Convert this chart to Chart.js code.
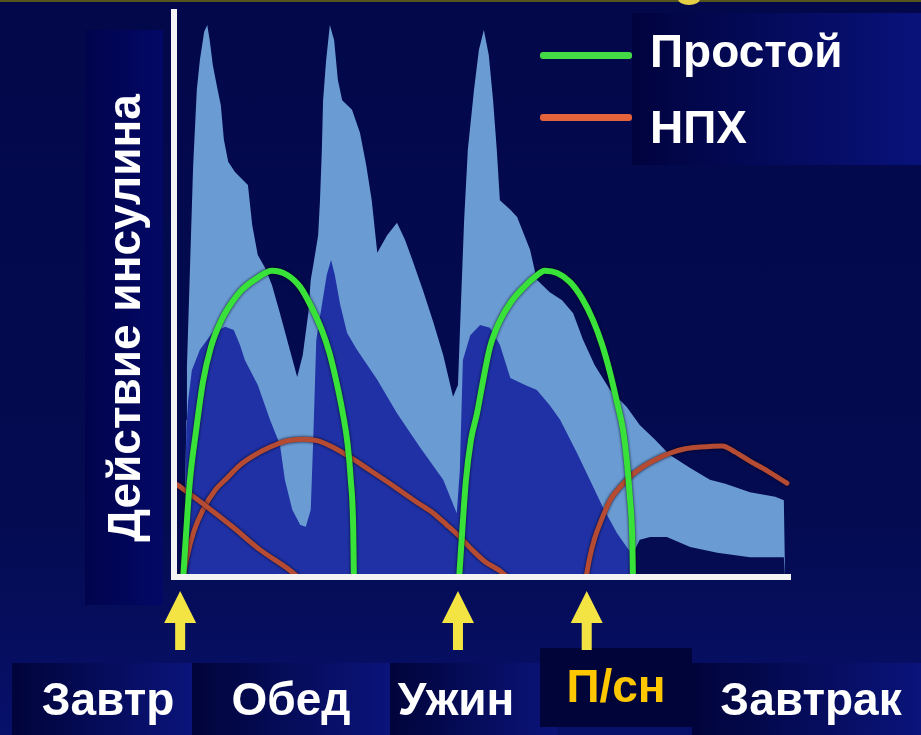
<!DOCTYPE html>
<html lang="ru">
<head>
<meta charset="utf-8">
<title>Действие инсулина</title>
<script src="https://cdn.jsdelivr.net/npm/chart.js@4/dist/chart.umd.min.js"></script>
<style>
  html, body { margin: 0; padding: 0; }
  body {
    width: 921px; height: 735px; overflow: hidden; position: relative;
    background: linear-gradient(180deg, #02084a 0%, #040b50 70%, #07106a 100%);
    font-family: "Liberation Sans", Arial, sans-serif; font-weight: bold; color: #fff;
  }
  .panel { position: absolute; z-index: 0; }
  #grafico { position: absolute; left: 0; top: 0; z-index: 1; }
  .txt { position: absolute; z-index: 2; font-size: 46px; line-height: 46px; white-space: nowrap; }
  #yTitle { left: 124px; top: 318px; width: 520px; height: 46px; text-align: center;
            transform: translate(-50%, -50%) rotate(-90deg); }
  .bar { position: absolute; z-index: 2; height: 7px; border-radius: 3px; }
</style>
</head>
<body>
<div class="panel" style="left:0;top:0;width:921px;height:2px;background:#55531e"></div>
<div class="panel" style="left:678px;top:-7px;width:22px;height:12px;border-radius:50%;background:#e6cf45"></div>
<div class="panel" style="left:85px;top:30px;width:78px;height:575px;background:linear-gradient(90deg,#01044c,#030866)"></div>
<div class="panel" style="left:632px;top:13px;width:289px;height:152px;background:linear-gradient(90deg,#01033e,#08127a)"></div>
<div class="panel" style="left:12px;top:663px;width:180px;height:72px;background:linear-gradient(90deg,#01043a,#0a147a)"></div>
<div class="panel" style="left:192px;top:663px;width:198px;height:72px;background:linear-gradient(90deg,#01043a,#0a147a)"></div>
<div class="panel" style="left:390px;top:663px;width:167px;height:72px;background:linear-gradient(90deg,#01043a,#0a147a)"></div>
<div class="panel" style="left:692px;top:663px;width:229px;height:72px;background:linear-gradient(90deg,#01043a,#0a147a)"></div>
<div class="panel" style="left:540px;top:648px;width:152px;height:79px;background:#010438;z-index:0"></div>

<canvas id="grafico" width="921" height="735"></canvas>
<div id="yTitle" class="txt">Действие инсулина</div>
<div id="leyenda"></div>
<div id="comidas"></div>

<script>
// ось X: 0..100 — сутки от завтрака до завтрака, ось Y: 0..100 — действие инсулина

// светлая полоса (верхняя граница)
const upperX = [1.6,2.0,2.1,2.6,3.1,3.7,4.2,4.9,5.4,5.8,6.3,7.0,7.6,8.1,8.8,9.9,12.0,12.7,13.6,14.8,15.9,17.2,18.8,20.0,20.9,21.8,22.2,22.7,23.4,23.7,24.0,24.2,24.7,25.3,26.0,26.6,27.3,28.9,30.2,31.2,32.1,33.0,34.6,36.2,37.5,38.8,40.4,42.1,43.7,45.3,46.1,46.6,47.1,47.7,48.7,49.5,50.3,51.1,51.8,52.4,52.9,54.6,55.7,57.8,58.9,61.0,63.0,64.8,66.4,68.3,70.8,73.5,75.6,78.1,80.5,83.8,87.0,89.5,93.5,97.6,99.0,99.2];
const upperY = [0,27.8,37.2,54.9,72.6,86.2,91.5,96.5,97.7,95.0,90.6,86.7,83.5,77.4,73.5,71.7,69.4,62.3,57.0,54.7,51.7,46.7,40.2,35.4,39.3,46.7,52.6,55.8,60.5,66.7,75.6,84.4,91.5,97.7,95.0,88.0,84.4,82.7,78.6,72.9,66.7,57.4,60.5,62.7,59.7,55.8,50.8,45.1,39.3,31.9,34.0,49.0,63.2,75.6,86.2,93.3,96.8,92.4,84.4,75.6,66.7,65.0,63.7,57.9,52.6,50.4,49.0,46.7,42.0,37.5,33.1,30.1,26.9,24.3,21.6,19.3,17.2,16.5,15.0,14.2,13.6,0];

// нижняя граница полосы (днём)
const lowerX = [1.6,2.0,2.3,2.9,4.2,6.2,8.3,9.7,10.7,11.5,13.6,15.6,17.2,18.0,19.2,20.5,21.4,22.2,22.6,23.1,24.0,24.8,25.5,26.1,27.0,28.1,29.7,33.0,36.2,39.9,43.7,45.9,46.4,46.9,48.1,49.7,51.3,52.9,54.6,57.0,58.9,61.0,62.7,65.4,67.5,69.6,71.9,74.4];
const lowerY = [0,26.0,31.3,36.6,40.2,43.2,44.3,43.7,41.1,38.4,34.0,27.8,23.4,17.2,11.9,9.2,8.9,11.9,24.3,42.0,48.1,53.5,56.1,53.5,48.1,43.2,40.2,34.9,29.0,23.0,17.2,11.3,18.9,38.4,42.8,44.6,44.1,41.1,35.2,34.0,33.1,30.4,27.8,22.0,17.2,12.4,7.8,3.9];

// нижняя граница полосы (ночью)
const nightX = [74.4,75.6,77.3,80.0,83.8,88.2,93.5,99.0,99.2];
const nightY = [3.9,6.6,7.1,7.1,5.3,4.3,3.5,3.5,0];

// простой инсулин
const arc1X = [1.5,2.0,2.6,3.6,4.7,6.0,7.5,9.1,11.0,13.5,15.9,18.3,20.5,22.4,24.0,25.2,26.3,27.4,28.2,28.7,29.1,29.2];
const arc1Y = [0,8.3,17.2,26.0,34.5,40.7,45.0,48.1,50.8,52.9,54.2,53.5,51.3,47.6,43.7,39.8,34.9,29.0,23.4,17.2,8.3,0];
const arc2X = [46.3,46.8,47.4,48.2,49.2,50.2,51.3,52.8,54.6,56.7,58.6,60.2,62.2,64.3,66.2,68.0,69.5,70.8,71.9,72.9,73.5,74.0,74.4,74.5];
const arc2Y = [0,8.3,17.2,24.2,29.0,34.9,40.7,45.1,48.5,51.2,53.1,54.2,53.8,52.2,49.4,45.5,41.1,36.1,31.0,26.0,20.7,14.2,6.5,0];

// НПХ
const nph1X = [0.6,5.4,9.6,14.0,18.8,20.1];
const nph1Y = [16.3,12.4,8.8,4.8,1.2,0];
const nph2X = [1.5,2.1,3.2,4.7,6.7,8.6,10.7,12.8,15.6,18.3,20.9,23.4,26.1,28.6,31.8,35.1,37.2,39.6,42.1,44.3,46.4,48.4,50.5,52.9,54.1];
const nph2Y = [0,3.5,8.0,11.9,15.4,17.5,19.8,21.4,23.0,24.1,24.4,24.1,22.8,21.2,18.9,16.5,14.9,13.1,11.3,9.2,7.1,4.8,2.7,1.1,0];
const nph3X = [66.9,67.5,68.3,69.2,70.8,72.4,74.4,76.1,78.4,80.5,83.0,85.4,89.0,91.1,93.5,96.3,99.5];
const nph3Y = [0,3.5,6.9,9.6,13.6,15.9,18.1,19.5,20.9,21.9,22.7,23.0,23.2,22.1,20.5,18.8,16.6];

// инъекции (стрелки) и подписи приёмов пищи
const injectionX = [1.0, 46.1, 67.0];
const mealLabels = ["Завтр", "Обед", "Ужин", "П/сн", "Завтрак"];

const points = (xs, ys) => xs.map((x, i) => ({ x: x, y: ys[i] }));

function curve(xs, ys, color, width, label, legendColor) {
  return {
    label: label, legendColor: legendColor,
    data: points(xs, ys),
    borderColor: color, borderWidth: width,
    borderCapStyle: "round",
    pointRadius: 0, fill: false,
    cubicInterpolationMode: "monotone",
    shadow: true
  };
}

function area(xs, ys, color) {
  return {
    data: points(xs, ys),
    borderWidth: 0, pointRadius: 0,
    backgroundColor: color, fill: "origin", tension: 0
  };
}

const GREEN = "#38e238";
const RED = "#b54b33";

// тёмная окантовка линий
const shadowPlugin = {
  id: "shadow",
  beforeDatasetDraw(chart, args) {
    if (chart.data.datasets[args.index].shadow) {
      const ctx = chart.ctx;
      ctx.save();
      ctx.shadowColor = "rgba(0,0,20,0.9)";
      ctx.shadowBlur = 3;
    }
  },
  afterDatasetDraw(chart, args) {
    if (chart.data.datasets[args.index].shadow) chart.ctx.restore();
  }
};

// жёлтые стрелки под осью
const arrowPlugin = {
  id: "arrows",
  afterDraw(chart) {
    const ctx = chart.ctx;
    const xs = chart.scales.x;
    const base = chart.chartArea.bottom;
    ctx.save();
    ctx.fillStyle = "#f3e443";
    injectionX.forEach(v => {
      const px = xs.getPixelForValue(v);
      ctx.beginPath();
      ctx.moveTo(px, base + 14);
      ctx.lineTo(px + 16, base + 46);
      ctx.lineTo(px + 5, base + 46);
      ctx.lineTo(px + 5, base + 73);
      ctx.lineTo(px - 5, base + 73);
      ctx.lineTo(px - 5, base + 46);
      ctx.lineTo(px - 16, base + 46);
      ctx.closePath();
      ctx.fill();
    });
    ctx.restore();
  }
};

const hidden = { display: false, drawTicks: false };
const axisBorder = { display: true, color: "#f4f4f4", width: 6, z: 1 };

const chart = new Chart(document.getElementById("grafico").getContext("2d"), {
  type: "line",
  data: {
    datasets: [
      curve(arc1X, arc1Y, GREEN, 6, "Простой", "#44dc44"),
      curve(arc2X, arc2Y, GREEN, 6),
      curve(nph1X, nph1Y, RED, 5, "НПХ", "#e4633b"),
      curve(nph2X, nph2Y, RED, 5),
      curve(nph3X, nph3Y, RED, 5),
      area(nightX, nightY, "#060c52"),
      area(lowerX, lowerY, "#1f31a4"),
      area(upperX, upperY, "#6a9bd3")
    ]
  },
  options: {
    responsive: false,
    animation: false,
    devicePixelRatio: 1,
    layout: { autoPadding: false, padding: { left: 174, right: 131, top: 12, bottom: 158 } },
    scales: {
      x: { type: "linear", min: 0, max: 100, grid: hidden, ticks: { display: false }, border: axisBorder },
      y: { type: "linear", min: 0, max: 100, grid: hidden, ticks: { display: false }, border: axisBorder }
    },
    plugins: { legend: { display: false }, tooltip: { enabled: false } }
  },
  plugins: [shadowPlugin, arrowPlugin]
});

// легенда
const legendBarTop = [55, 117];
const legendTextTop = [28, 104];
const legend = document.getElementById("leyenda");
chart.data.datasets.filter(d => d.label).forEach((d, i) => {
  const bar = document.createElement("div");
  bar.className = "bar";
  bar.style.left = "540px";
  bar.style.top = (legendBarTop[i] - 3.5) + "px";
  bar.style.width = "92px";
  bar.style.background = d.legendColor;
  legend.appendChild(bar);
  const t = document.createElement("div");
  t.className = "txt";
  t.style.left = "650px";
  t.style.top = legendTextTop[i] + "px";
  t.textContent = d.label;
  legend.appendChild(t);
});

// подписи приёмов пищи
const mealCenter = [108, 291, 456, 616, 811];
const mealTop = [676, 676, 676, 663, 676];
const mealColor = ["#fff", "#fff", "#fff", "#ffc700", "#fff"];
const meals = document.getElementById("comidas");
mealLabels.forEach((m, i) => {
  const t = document.createElement("div");
  t.className = "txt";
  t.style.left = (mealCenter[i] - 150) + "px";
  t.style.width = "300px";
  t.style.textAlign = "center";
  t.style.top = mealTop[i] + "px";
  t.style.color = mealColor[i];
  t.textContent = m;
  meals.appendChild(t);
});
</script>
</body>
</html>
